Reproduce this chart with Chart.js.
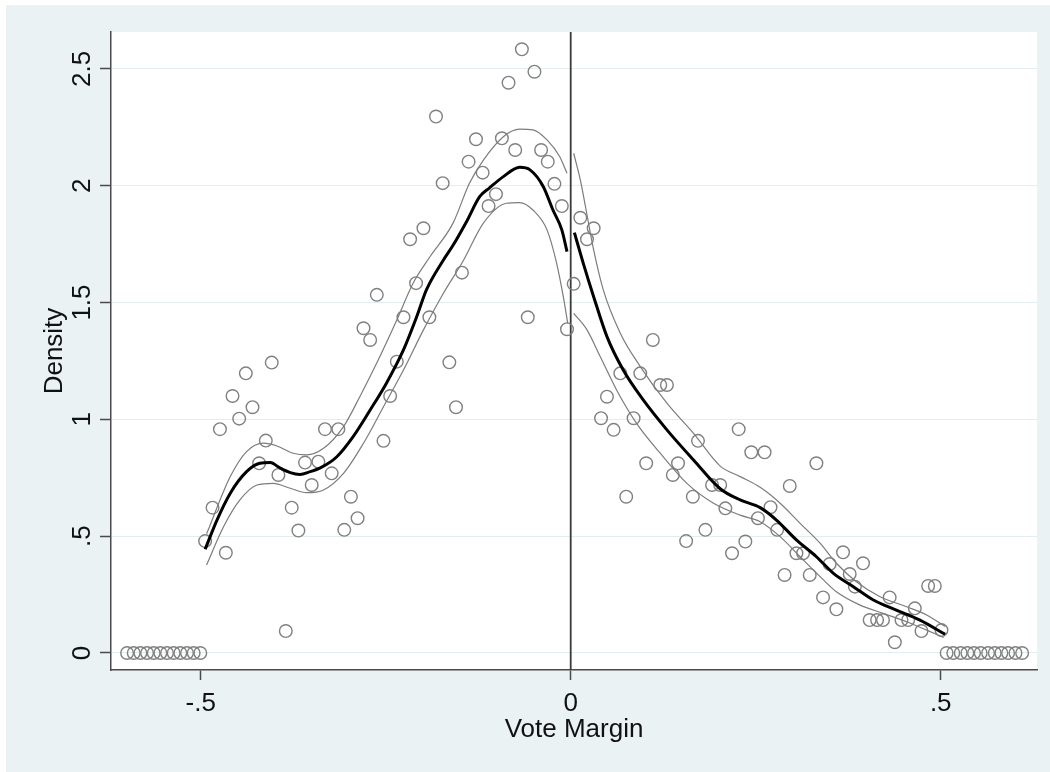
<!DOCTYPE html>
<html>
<head>
<meta charset="utf-8">
<title>Density at the cutoff</title>
<script src="https://cdn.jsdelivr.net/npm/chart.js@4.4.0/dist/chart.umd.min.js"></script>
<style>
    html, body { margin: 0; padding: 0; background: #ffffff; overflow: hidden; }
    #frame { position: relative; width: 1050px; height: 772px; }
    #densityChart { display: block; }
</style>
</head>
<body>
<div id="frame"><canvas id="densityChart" width="1050" height="772"></canvas></div>
<script>
// bin midpoints and bin heights (circles)
const binMid = [
    -0.5995, -0.5905, -0.5815, -0.5725, -0.5635, -0.5545, -0.5455, -0.5365, -0.5275, -0.5185, -0.5095, -0.5005,
    -0.494, -0.484, -0.474, -0.466, -0.457, -0.448, -0.439, -0.430, -0.421, -0.412,
    -0.404, -0.395, -0.385, -0.377, -0.368, -0.359, -0.350, -0.341, -0.332, -0.323,
    -0.314, -0.306, -0.297, -0.288, -0.280, -0.271, -0.262, -0.253, -0.244, -0.235,
    -0.226, -0.217, -0.209, -0.199, -0.191, -0.182, -0.173, -0.164, -0.155, -0.147,
    -0.138, -0.128, -0.119, -0.111, -0.101, -0.093, -0.084, -0.075, -0.066, -0.058,
    -0.049, -0.040, -0.031, -0.022, -0.012, -0.005,
    0.004, 0.013, 0.022, 0.031, 0.041, 0.049, 0.058, 0.067, 0.075, 0.085,
    0.094, 0.102, 0.111, 0.121, 0.130, 0.138, 0.145, 0.156, 0.165, 0.172,
    0.182, 0.191, 0.202, 0.209, 0.218, 0.227, 0.236, 0.244, 0.253, 0.262,
    0.270, 0.279, 0.289, 0.296, 0.305, 0.314, 0.323, 0.332, 0.341, 0.350,
    0.359, 0.368, 0.377, 0.384, 0.395, 0.404, 0.414, 0.422, 0.431, 0.438,
    0.447, 0.456, 0.465, 0.474, 0.483, 0.492, 0.501,
    0.508, 0.517, 0.527, 0.536, 0.545, 0.554, 0.564, 0.573, 0.582, 0.591, 0.601, 0.610
];
const binDensity = [
    0, 0, 0, 0, 0, 0, 0, 0, 0, 0, 0, 0,
    0.479, 0.622, 0.958, 0.429, 1.100, 1.003, 1.197, 1.052, 0.812, 0.909,
    1.243, 0.762, 0.094, 0.622, 0.524, 0.815, 0.719, 0.819, 0.958, 0.769,
    0.958, 0.527, 0.669, 0.577, 1.390, 1.340, 1.533, 0.908, 1.100, 1.247,
    1.437, 1.771, 1.583, 1.818, 1.437, 2.296, 2.011, 1.244, 1.052, 1.628,
    2.103, 2.199, 2.056, 1.913, 1.964, 2.203, 2.441, 2.153, 2.584, 1.437,
    2.488, 2.153, 2.103, 2.008, 1.913, 1.386,
    1.580, 1.863, 1.771, 1.818, 1.005, 1.097, 0.955, 1.197, 0.669, 1.005,
    1.197, 0.812, 1.340, 1.147, 1.147, 0.762, 0.812, 0.479, 0.669, 0.908,
    0.527, 0.719, 0.719, 0.619, 0.427, 0.958, 0.477, 0.859, 0.577, 0.859,
    0.624, 0.527, 0.334, 0.715, 0.427, 0.427, 0.334, 0.812, 0.238, 0.381,
    0.187, 0.431, 0.338, 0.284, 0.384, 0.141, 0.141, 0.141, 0.238, 0.046,
    0.141, 0.141, 0.191, 0.094, 0.287, 0.287, 0.098,
    0, 0, 0, 0, 0, 0, 0, 0, 0, 0, 0, 0
];

// local linear density fit, left of the cutoff
const fitLeftX = [-0.494, -0.478, -0.460, -0.438, -0.420, -0.406, -0.393, -0.379, -0.366, -0.352, -0.339, -0.316,
    -0.294, -0.271, -0.249, -0.226, -0.208, -0.195, -0.172, -0.159, -0.141, -0.123, -0.110, -0.091, -0.069,
    -0.055, -0.037, -0.024, -0.012, -0.005];
const fitLeftY = [0.444, 0.569, 0.684, 0.776, 0.812, 0.815, 0.792, 0.772, 0.764, 0.776, 0.791, 0.840,
    0.926, 1.040, 1.155, 1.297, 1.440, 1.554, 1.682, 1.745, 1.845, 1.953, 1.990, 2.039, 2.079,
    2.068, 1.996, 1.896, 1.811, 1.718];
const ciHiLeftX = [-0.492, -0.460, -0.438, -0.415, -0.397, -0.375, -0.357, -0.334, -0.307, -0.285, -0.258,
    -0.235, -0.213, -0.190, -0.159, -0.137, -0.118, -0.091, -0.069, -0.051, -0.032, -0.015, -0.005];
const ciHiLeftY = [0.510, 0.755, 0.862, 0.898, 0.886, 0.855, 0.848, 0.876, 0.969, 1.097, 1.268,
    1.425, 1.583, 1.697, 1.840, 2.010, 2.110, 2.210, 2.242, 2.239, 2.196, 2.125, 2.053];
const ciLoLeftX = [-0.492, -0.469, -0.447, -0.424, -0.402, -0.379, -0.357, -0.334, -0.307, -0.280, -0.253,
    -0.226, -0.199, -0.172, -0.145, -0.118, -0.087, -0.069, -0.051, -0.032, -0.019, -0.010, -0.004];
const ciLoLeftY = [0.377, 0.541, 0.655, 0.719, 0.726, 0.705, 0.686, 0.698, 0.769, 0.898, 1.054,
    1.211, 1.383, 1.540, 1.680, 1.840, 1.925, 1.928, 1.896, 1.811, 1.668, 1.525, 1.411];

// local linear density fit, right of the cutoff
const fitRightX = [0.005, 0.017, 0.031, 0.049, 0.071, 0.098, 0.130, 0.166, 0.202, 0.229, 0.256, 0.278,
    0.305, 0.332, 0.355, 0.382, 0.409, 0.440, 0.472, 0.506];
const fitRightY = [1.799, 1.668, 1.525, 1.354, 1.211, 1.083, 0.955, 0.826, 0.703, 0.655, 0.622, 0.569,
    0.484, 0.412, 0.341, 0.284, 0.227, 0.184, 0.141, 0.080];
const ciHiRightX = [0.004, 0.013, 0.020, 0.031, 0.044, 0.067, 0.094, 0.130, 0.166, 0.202, 0.229, 0.256,
    0.283, 0.310, 0.337, 0.359, 0.386, 0.418, 0.454, 0.481, 0.506];
const ciHiRightY = [2.139, 2.025, 1.910, 1.725, 1.554, 1.369, 1.226, 1.069, 0.940, 0.800, 0.755, 0.709,
    0.641, 0.555, 0.470, 0.384, 0.305, 0.241, 0.198, 0.163, 0.113];
const ciLoRightX = [0.004, 0.022, 0.040, 0.062, 0.089, 0.121, 0.157, 0.193, 0.229, 0.256, 0.283, 0.310,
    0.337, 0.359, 0.391, 0.422, 0.454, 0.481, 0.504];
const ciLoRightY = [1.454, 1.383, 1.268, 1.126, 0.983, 0.855, 0.726, 0.641, 0.590, 0.562, 0.498, 0.412,
    0.327, 0.262, 0.205, 0.170, 0.134, 0.098, 0.067];

const cutoff = 0;
const xTickValues = [-0.5, 0, 0.5];
const xTickLabels = ['-.5', '0', '.5'];
const yTickValues = [0, 0.5, 1, 1.5, 2, 2.5];
const yTickLabels = ['0', '.5', '1', '1.5', '2', '2.5'];
const xRange = [-0.6212, 0.6301];
const yRange = [-0.0728, 2.658];

const FONT = '"Liberation Sans", Arial, sans-serif';
const TEXT = '#111111';
const AXIS = '#4a4a4a';

const zip = (xs, ys) => xs.map((x, i) => ({ x, y: ys[i] }));

/**
 * Paints the Stata-like graph region and the white plot region.
 */
const backdrop = {
    id: 'backdrop',
    beforeDraw(chart) {
        const { ctx, chartArea: a } = chart;
        ctx.save();
        ctx.fillStyle = '#ffffff';
        ctx.fillRect(0, 0, chart.width, chart.height);
        ctx.fillStyle = '#eaf2f3';
        ctx.fillRect(6, 5, chart.width - 6, chart.height - 5);
        ctx.fillStyle = '#ffffff';
        ctx.fillRect(a.left, a.top, a.right - a.left, a.bottom - a.top);
        ctx.restore();
    }
};

/**
 * Vertical y tick labels and both axis titles.
 */
const axisText = {
    id: 'axisText',
    afterDraw(chart) {
        const { ctx, chartArea: a, scales } = chart;
        ctx.save();
        ctx.fillStyle = TEXT;
        ctx.font = '26px ' + FONT;
        ctx.textAlign = 'center';
        ctx.textBaseline = 'alphabetic';
        yTickValues.forEach((v, i) => {
            ctx.save();
            ctx.translate(90, scales.y.getPixelForValue(v));
            ctx.rotate(-Math.PI / 2);
            ctx.fillText(yTickLabels[i], 0, 0);
            ctx.restore();
        });
        ctx.save();
        ctx.translate(61.5, (a.top + a.bottom) / 2);
        ctx.rotate(-Math.PI / 2);
        ctx.fillText('Density', 0, 0);
        ctx.restore();
        ctx.fillText('Vote Margin', (a.left + a.right) / 2, 737);
        ctx.restore();
    }
};

const curve = (data, width, color) => ({
    type: 'scatter',
    data,
    showLine: true,
    borderColor: color,
    borderWidth: width,
    pointRadius: 0,
    cubicInterpolationMode: 'monotone',
    fill: false
});

new Chart(document.getElementById('densityChart'), {
    type: 'scatter',
    data: {
        datasets: [
            curve(zip(fitLeftX, fitLeftY), 3, '#000000'),
            curve(zip(fitRightX, fitRightY), 3, '#000000'),
            curve(zip(ciHiLeftX, ciHiLeftY), 1.2, '#7c7c7c'),
            curve(zip(ciLoLeftX, ciLoLeftY), 1.2, '#7c7c7c'),
            curve(zip(ciHiRightX, ciHiRightY), 1.2, '#7c7c7c'),
            curve(zip(ciLoRightX, ciLoRightY), 1.2, '#7c7c7c'),
            {
                data: zip(binMid, binDensity),
                pointStyle: 'circle',
                pointRadius: 6.3,
                pointBorderWidth: 1.4,
                pointBorderColor: '#808080',
                pointBackgroundColor: 'rgba(0,0,0,0)'
            },
            {
                type: 'scatter',
                data: [{ x: cutoff, y: yRange[0] }, { x: cutoff, y: yRange[1] }],
                showLine: true,
                borderColor: '#3a3a3a',
                borderWidth: 1.8,
                pointRadius: 0
            }
        ]
    },
    options: {
        responsive: false,
        animation: false,
        layout: { padding: { left: 0, top: 32, right: 13, bottom: 0 } },
        plugins: {
            legend: { display: false },
            tooltip: { enabled: false }
        },
        scales: {
            x: {
                type: 'linear',
                min: xRange[0],
                max: xRange[1],
                afterBuildTicks: scale => { scale.ticks = xTickValues.map(value => ({ value })); },
                afterFit: scale => { scale.height = 102; },
                border: { display: true, color: AXIS, width: 1.5 },
                grid: { drawOnChartArea: false, drawTicks: true, tickLength: 10, tickColor: AXIS, tickWidth: 1.5 },
                ticks: {
                    autoSkip: false,
                    maxRotation: 0,
                    padding: 8,
                    color: TEXT,
                    font: { family: FONT, size: 26 },
                    callback: v => xTickLabels[xTickValues.indexOf(v)]
                }
            },
            y: {
                type: 'linear',
                min: yRange[0],
                max: yRange[1],
                afterBuildTicks: scale => { scale.ticks = yTickValues.map(value => ({ value })); },
                afterFit: scale => { scale.width = 111; },
                border: { display: true, color: AXIS, width: 1.5 },
                grid: { color: '#e3ecef', lineWidth: 1, drawTicks: true, tickLength: 11, tickColor: AXIS, tickWidth: 1.5 },
                ticks: { display: false }
            }
        }
    },
    plugins: [backdrop, axisText]
});
</script>
</body>
</html>
